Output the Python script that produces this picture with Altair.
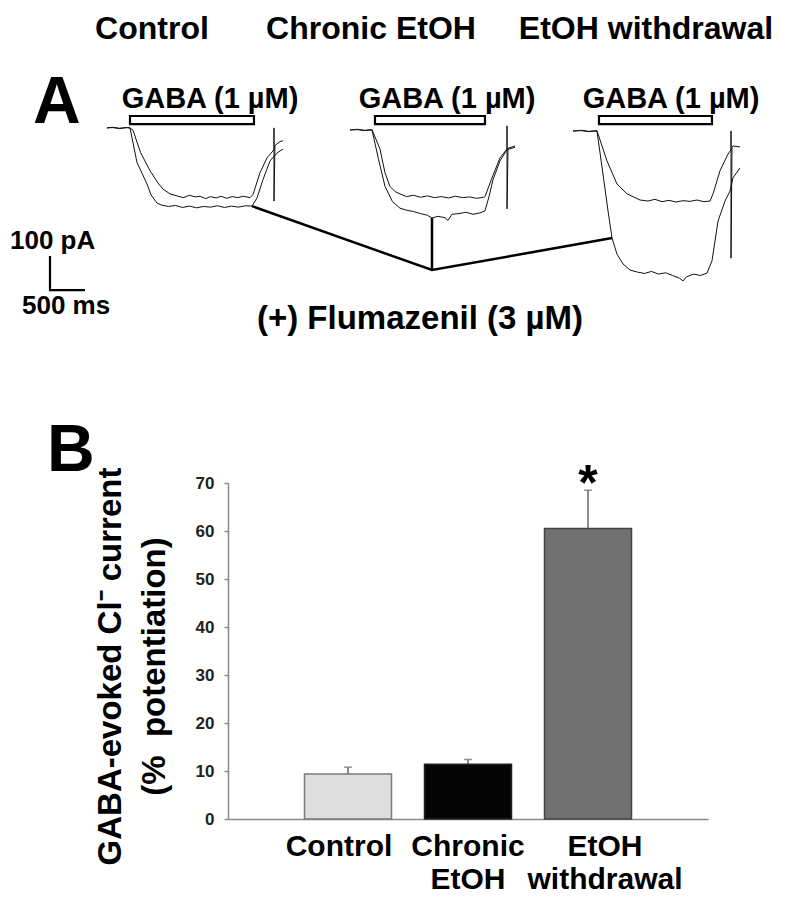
import altair as alt
import pandas as pd

FONT = "Liberation Sans"

# ---------------- Panel B data ----------------
groups = ["Control", "Chronic EtOH", "EtOH withdrawal"]
potentiation = [9.4, 11.4, 60.5]
sem = [1.4, 1.0, 8.0]
significance = ["", "", "*"]
bar_fill = ["#dedede", "#050505", "#717171"]
bar_stroke = ["#7a7a7a", "#222222", "#444444"]

# ---------------- Panel A data: traces (time ms, current pA) ----------------
ctrl_t = [-330, -250, -150, -50, 0, 43, 150, 286, 400, 471, 571, 671, 760, 850, 930, 1000, 1080, 1150,
          1230, 1300, 1380, 1460, 1540, 1620, 1714, 1757, 1857, 1957, 2057, 2057, 2057, 2071, 2100, 2143, 2186]
ctrl_i = [2, 4, 1, 3, 2, -5, -70, -124, -160, -178, -192, -198, -203, -196, -201, -199, -206, -200,
          -204, -199, -205, -200, -203, -199, -203, -194, -130, -86, -62, 2, -213, -50, -45, -38, -36]
ctrlF_t = [-330, -250, -150, -50, 0, 100, 243, 300, 386, 450, 550, 650, 750, 850, 950, 1050, 1150, 1250,
           1350, 1450, 1550, 1650, 1743, 1814, 1900, 2000, 2100, 2186]
ctrlF_i = [2, 3, 0, 3, 2, -100, -163, -195, -219, -225, -229, -226, -232, -228, -233, -229, -231, -227,
           -232, -228, -231, -227, -228, -204, -150, -95, -72, -60]
chr_t = [3143, 3250, 3350, 3457, 3571, 3643, 3714, 3786, 3857, 3950, 4050, 4150, 4250, 4350, 4450, 4550,
         4650, 4750, 4850, 4950, 5050, 5071, 5186, 5286, 5386, 5386, 5386, 5400, 5500]
chr_i = [-4, -2, -5, -3, -60, -130, -170, -185, -192, -200, -196, -202, -198, -203, -200, -204,
         -199, -203, -201, -205, -202, -200, -137, -86, -60, 8, -236, -58, -51]
chrF_t = [3143, 3250, 3350, 3457, 3550, 3643, 3750, 3857, 3950, 4050, 4150, 4250, 4314, 4400, 4500, 4543,
          4600, 4700, 4800, 4900, 5000, 5071, 5129, 5186, 5286, 5386, 5500]
chrF_i = [-4, -3, -6, -4, -90, -170, -215, -234, -240, -244, -250, -255, -263, -258, -262, -270,
          -252, -250, -246, -252, -248, -242, -200, -150, -95, -62, -55]
wd_t = [6329, 6450, 6550, 6671, 6814, 6957, 7100, 7286, 7400, 7500, 7600, 7700, 7800, 7900, 8000, 8100,
        8200, 8286, 8329, 8429, 8543, 8586, 8586, 8586, 8600, 8614, 8714]
wd_i = [-7, -5, -8, -6, -95, -163, -192, -210, -213, -208, -215, -211, -216, -212, -214, -210,
        -215, -213, -192, -124, -75, -62, -7, -381, -55, -51, -54]
wdF_t = [6329, 6450, 6550, 6671, 6757, 6829, 6886, 6957, 7043, 7143, 7250, 7350, 7450, 7550, 7650, 7750,
         7850, 7900, 7950, 8050, 8150, 8243, 8314, 8400, 8500, 8571, 8614, 8714]
wdF_i = [-7, -6, -9, -7, -134, -242, -322, -369, -398, -416, -422, -426, -420, -428, -424, -432,
         -440, -448, -436, -428, -432, -425, -389, -272, -213, -184, -145, -116]

# GABA application periods (ms)
gaba_start = [0, 3500, 6700]
gaba_end = [1771, 5071, 8314]

# Flumazenil connector (ms, pA)
link_t = [1743, 4314, 6886, 4314, 4314]
link_i = [-228, -416, -322, -416, -263]
link_seg = [0, 0, 0, 1, 1]

# Scale bar: 100 pA / 500 ms
sb_t = [-1143, -1143, -643]
sb_i = [-375, -475, -475]

# Annotation anchors (data units of panel A)
cond_t = [314, 3443, 7371]
gaba_label_t = [1143, 4529, 7729]

# ---------------- Build tables ----------------
rows = []
for name, ts, cs in [("ctrl", ctrl_t, ctrl_i), ("ctrlF", ctrlF_t, ctrlF_i),
                     ("chr", chr_t, chr_i), ("chrF", chrF_t, chrF_i),
                     ("wd", wd_t, wd_i), ("wdF", wdF_t, wdF_i)]:
    for k, (t, c) in enumerate(zip(ts, cs)):
        rows.append({"trace": name, "k": k, "t": t, "I": c})
traces = pd.DataFrame(rows)

gaba = pd.DataFrame({"t0": gaba_start, "t1": gaba_end, "y0": [37] * 3, "y1": [13] * 3})
links = pd.DataFrame({"t": link_t, "I": link_i, "seg": link_seg, "k": list(range(len(link_t)))})
sbar = pd.DataFrame({"t": sb_t, "I": sb_i, "k": [0, 1, 2]})

xs = alt.Scale(domain=[1400, 9200], nice=False, zero=False)
ys = alt.Scale(domain=[-660, 340], nice=False, zero=False)


def X(f="t"):
    return alt.X(f"{f}:Q", scale=xs, axis=None)


def Y(f="I"):
    return alt.Y(f"{f}:Q", scale=ys, axis=None)


trace_layer = alt.Chart(traces).mark_line(color="#111111", strokeWidth=1).encode(
    x=X(), y=Y(), detail="trace:N", order="k:Q")
gaba_layer = alt.Chart(gaba).mark_rect(fill="white", stroke="black", strokeWidth=2.2).encode(
    x=X("t0"), x2="t1:Q", y=Y("y0"), y2="y1:Q")
link_layer = alt.Chart(links).mark_line(color="black", strokeWidth=2.5).encode(
    x=X(), y=Y(), detail="seg:N", order="k:Q")
sbar_layer = alt.Chart(sbar).mark_line(color="black", strokeWidth=2.2).encode(
    x=X(), y=Y(), order="k:Q")


def txt(df, size, align="center"):
    return alt.Chart(df).mark_text(font=FONT, fontSize=size, fontWeight="bold", align=align,
                                   baseline="alphabetic", color="black").encode(
        x=X(), y=Y(), text="label:N")


cond_txt = txt(pd.DataFrame({"label": groups, "t": cond_t, "I": [264] * 3}), 32)
gaba_txt = txt(pd.DataFrame({"label": ["GABA (1 µM)"] * 3, "t": gaba_label_t, "I": [61] * 3}), 29)
flu_txt = txt(pd.DataFrame({"label": ["(+) Flumazenil (3 µM)"], "t": [4143], "I": [-590]}), 33)
sb_txt = txt(pd.DataFrame({"label": ["100 pA", "500 ms"], "t": [-1714, -1543], "I": [-354, -545]}), 26, "left")
big_txt = txt(pd.DataFrame({"label": ["A", "B"], "t": [-1386, -1186], "I": [16, -1007]}), 66, "left")

panelA = alt.layer(trace_layer, gaba_layer, link_layer, sbar_layer,
                   cond_txt, gaba_txt, flu_txt, sb_txt, big_txt).properties(width=546, height=340)

# ---------------- Panel B ----------------
dfB = pd.DataFrame({"group": groups, "value": potentiation,
                    "top": [v + e for v, e in zip(potentiation, sem)], "sig": significance})

NB = "\u00a0"
label_offset = {
    "condition": [
        {"test": "datum.value == 'EtOH withdrawal'", "value": 17},
        {"test": "datum.value == 'Control'", "value": -9},
    ],
    "value": 0,
}

xB = alt.X("group:N", sort=groups,
           scale=alt.Scale(paddingInner=0.275, paddingOuter=0.6375),
           axis=alt.Axis(title=None, labelAngle=0, ticks=False, domainColor="#8a8a8a", domainWidth=1.5,
                         labelFont=FONT, labelFontSize=30, labelFontWeight="bold", labelColor="black",
                         labelPadding=12, labelLineHeight=33, labelOverlap=False, labelLimit=400,
                         labelOffset=label_offset,
                         labelExpr="split(datum.label, ' ')"))
yscaleB = alt.Scale(domain=[0, 70], nice=False)
yAxisB = alt.Axis(values=[0, 10, 20, 30, 40, 50, 60, 70], grid=False,
                  domainColor="#8a8a8a", domainWidth=1.5, tickColor="#8a8a8a", tickSize=4, tickWidth=1.5,
                  labelFont=FONT, labelFontSize=17, labelFontWeight="bold", labelColor="#222222",
                  labelPadding=10,
                  title=["GABA-evoked Cl⁻ current", f"(%{NB}{NB}potentiation)"],
                  titleFont=FONT, titleFontSize=33, titleFontWeight="bold", titleColor="black",
                  titleLineHeight=44, titleBaseline="bottom", titleX=-101, titleY=183, titleAngle=270)

baseB = alt.Chart(dfB).encode(x=xB)
bars = baseB.mark_bar(strokeWidth=1.5).encode(
    y=alt.Y("value:Q", scale=yscaleB, axis=yAxisB),
    fill=alt.Fill("group:N", scale=alt.Scale(domain=groups, range=bar_fill), legend=None),
    stroke=alt.Stroke("group:N", scale=alt.Scale(domain=groups, range=bar_stroke), legend=None))
err = baseB.mark_rule(color="#666666", strokeWidth=1.5).encode(
    y=alt.Y("value:Q", scale=yscaleB), y2="top:Q")
cap = baseB.mark_tick(color="#666666", size=8, thickness=1.5).encode(
    y=alt.Y("top:Q", scale=yscaleB))
star = baseB.mark_text(font=FONT, fontSize=50, fontWeight="bold", dy=10, baseline="alphabetic",
                       color="black").encode(y=alt.Y("top:Q", scale=yscaleB), text="sig:N")

panelB = alt.layer(err, bars, cap, star).properties(width=480, height=336)

chart = alt.vconcat(panelA, panelB, spacing=130, bounds="flush").properties(
    padding={"left": 2, "top": 4, "right": 2, "bottom": 0}
).configure(font=FONT).configure_view(stroke=None)

chart.save("out.html", embed_options={"renderer": "svg", "actions": False})
